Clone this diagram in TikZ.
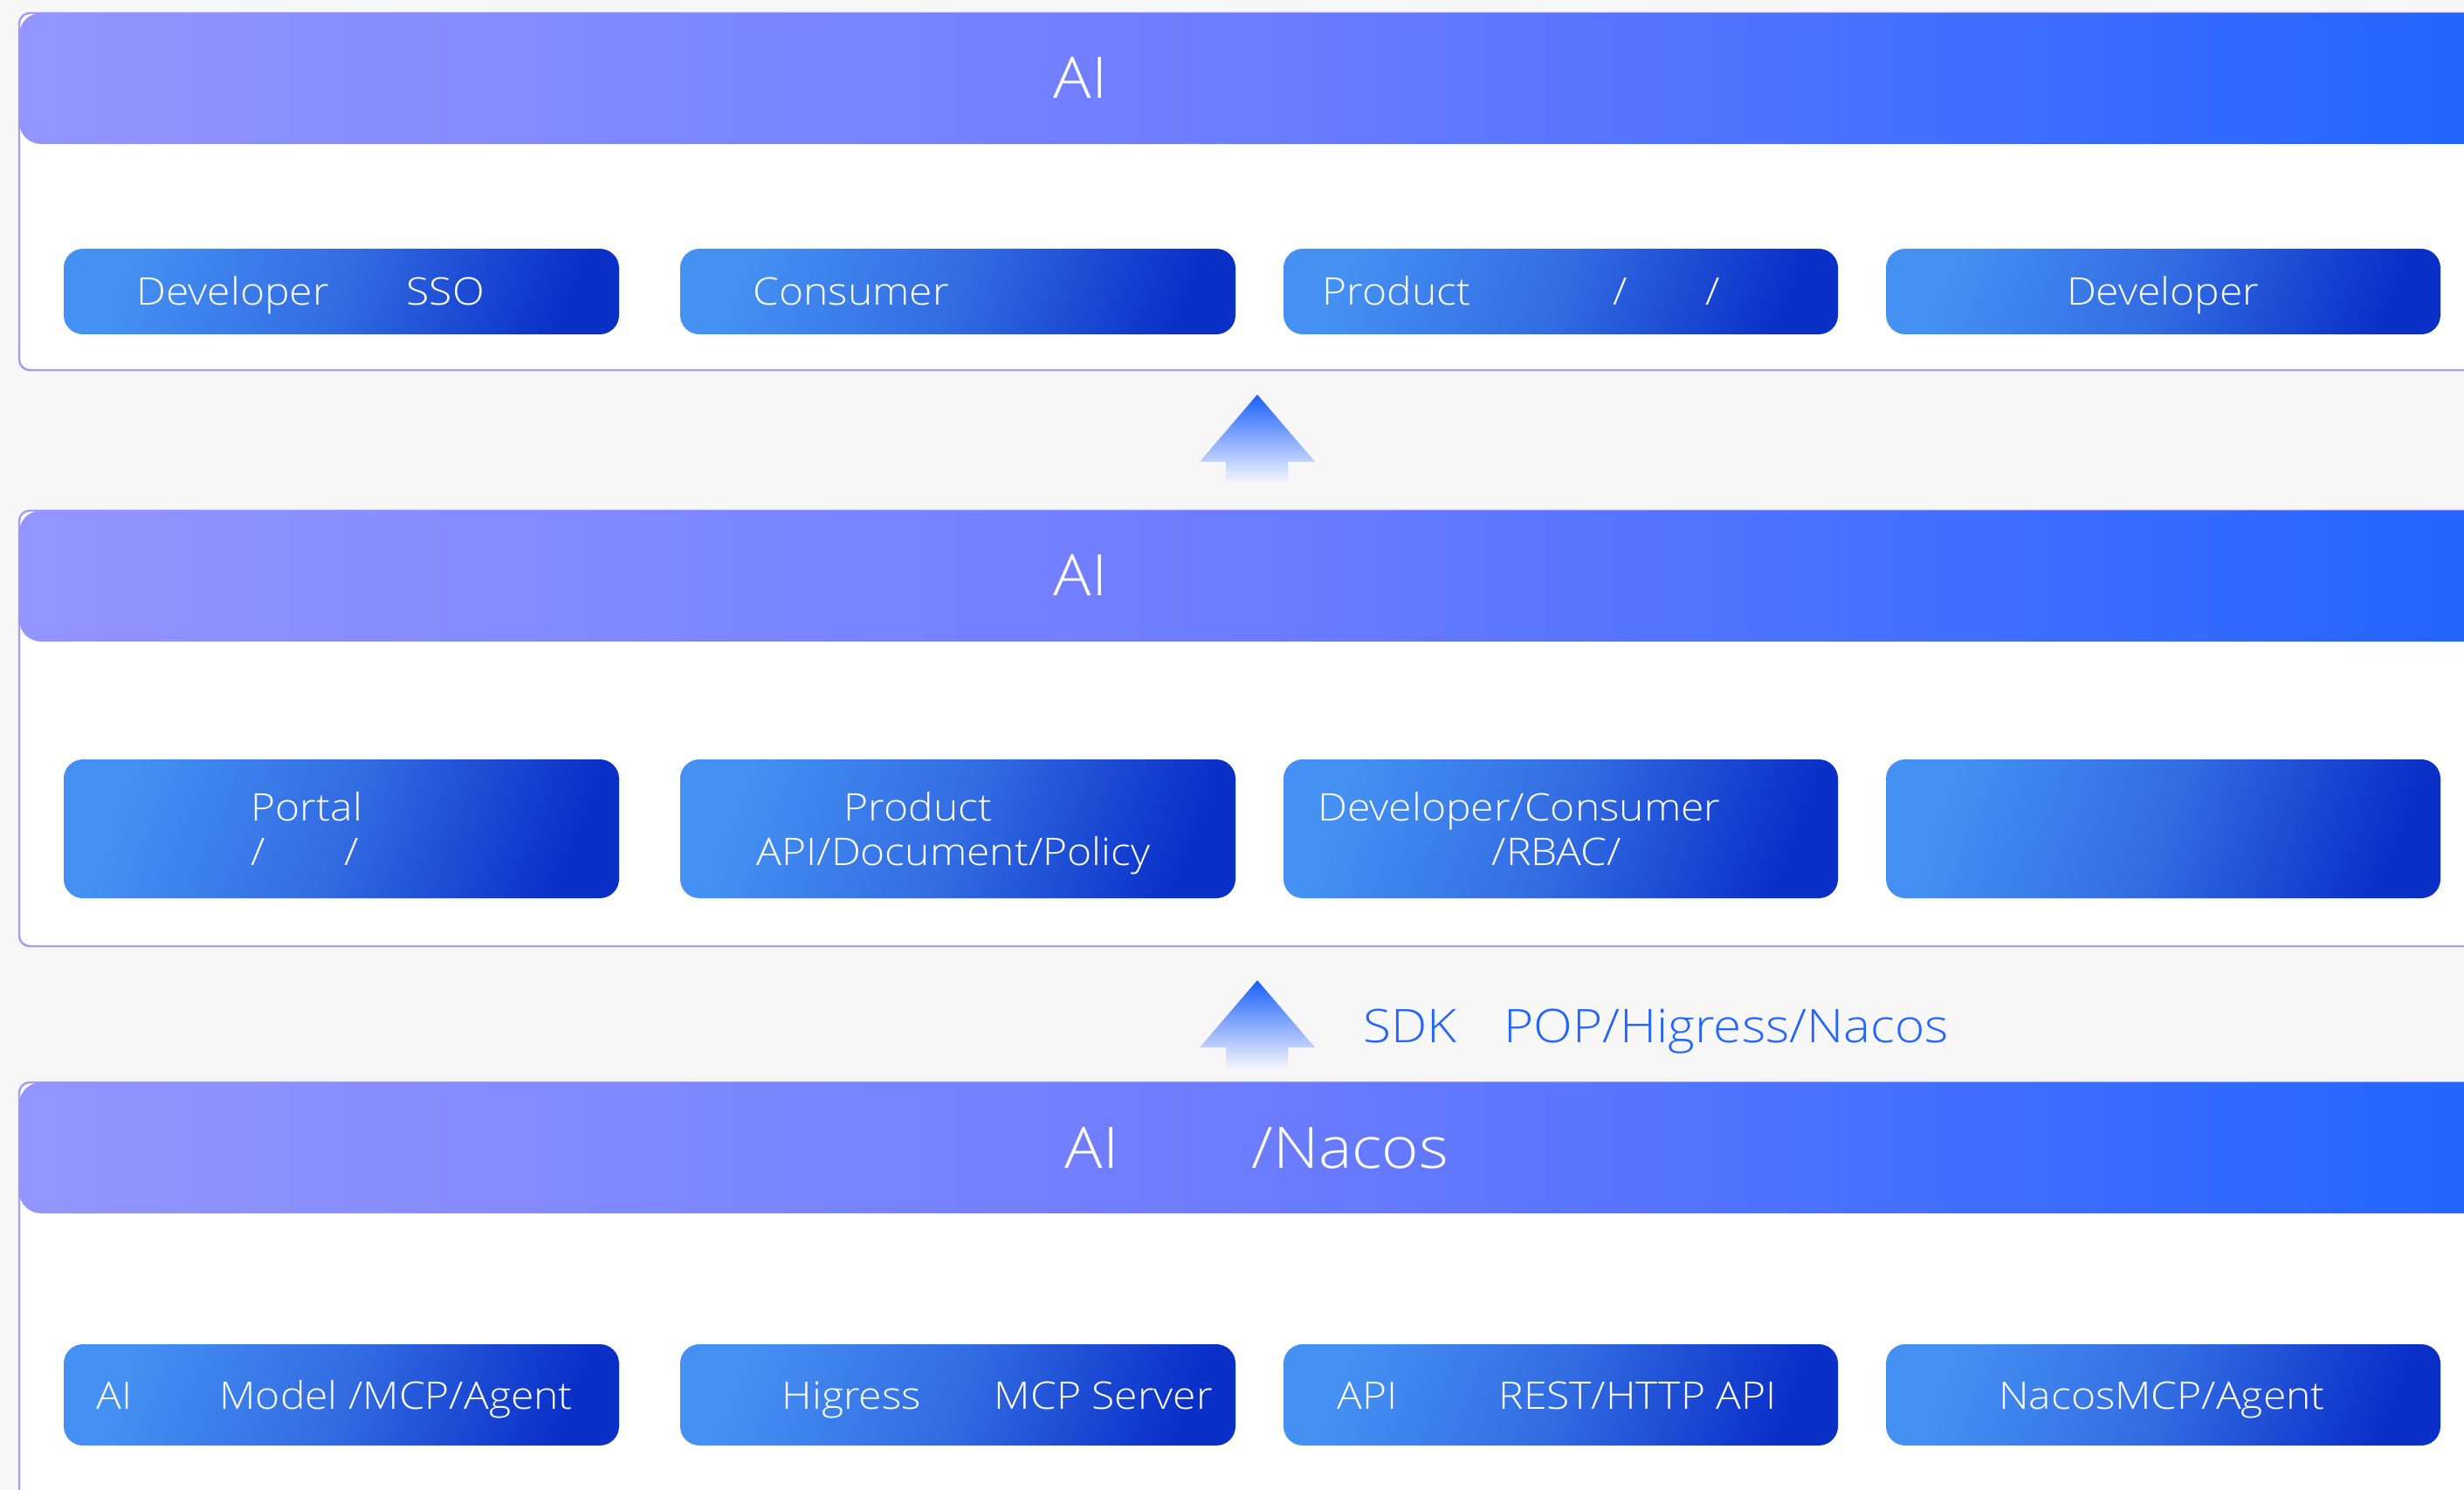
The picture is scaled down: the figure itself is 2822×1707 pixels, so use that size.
\documentclass[tikz,border=0pt]{standalone}
\usepackage{fontspec}
\setmainfont{Open Sans Light}[FakeStretch=1.1]
\usepackage{tikz}
\usetikzlibrary{positioning}
\usepackage{xcolor}

\definecolor{pagebg}{HTML}{F7F7F7}
\definecolor{barleft}{RGB}{147,149,255}
\definecolor{barmid}{RGB}{108,124,255}
\definecolor{barright}{RGB}{34,100,255}
\definecolor{panelline}{RGB}{160,158,250}
\definecolor{boxlight}{RGB}{69,145,243}
\definecolor{boxmid}{RGB}{50,108,226}
\definecolor{boxdark}{RGB}{10,48,200}
\definecolor{arrowtop}{RGB}{25,95,255}
\definecolor{arrowbot}{RGB}{247,247,251}
\definecolor{sdkblue}{RGB}{35,100,255}

\begin{document}
\begin{tikzpicture}[x=0.01cm,y=-0.01cm,
  layerpanel/.style={fill=white,draw=panelline,line width=0.7pt,rounded corners=0.12cm},
  layerbar/.style={left color=barleft,right color=barright,middle color=barmid,rounded corners=0.25cm},
  modbox/.style={left color=boxlight,right color=boxdark,middle color=boxmid,shading angle=70,rounded corners=0.22cm},
  flowarrow/.style={top color=arrowtop,bottom color=arrowbot},
  bartext/.style={anchor=base west,inner sep=0pt,text=white,font=\fontsize{18.7}{22}\selectfont},
  boxtext/.style={anchor=base west,inner sep=0pt,text=white,font=\fontsize{12.4}{15}\selectfont},
  sdktext/.style={anchor=base west,inner sep=0pt,text=sdkblue,font=\fontsize{15.1}{18}\selectfont}]
\useasboundingbox (0,0) rectangle (2822,1707);
\clip (0,0) rectangle (2822,1707);
\fill[pagebg] (0,0) rectangle (2822,1707);
% three layers: panel + title bar
\foreach \ya/\yb/\yc in {15/165/424, 585/735/1084, 1240/1390/1780} {
  \draw[layerpanel] (22,\ya) rectangle (2850,\yc);
  \shade[layerbar] (22,\ya) rectangle (2850,\yb);
}
% module boxes
\foreach \xa/\xb in {73/709, 779/1415, 1470/2105, 2160/2795} {
  \shade[modbox] (\xa,285) rectangle (\xb,383);
  \shade[modbox] (\xa,870) rectangle (\xb,1029);
  \shade[modbox] (\xa,1540) rectangle (\xb,1656);
}
% up arrows between layers
\foreach \yt in {452, 1123} {
  \shade[flowarrow] (1440,\yt) -- ++(66,77) -- ++(-31,0) -- ++(0,25) -- ++(-71,0)
    -- ++(0,-25) -- ++(-30,0) -- cycle;
}
\node[bartext] (h1) at (1206,113) {AI};
\node[bartext] (h2) at (1206,683) {AI};
\node[bartext] (h3) at (1219,1338) {AI\hspace{1.52cm}/Nacos};
\node[sdktext] (sdk) at (1561,1194) {SDK\hspace{0.54cm}POP/Higress/Nacos};
% top layer
\node[boxtext] (t11) at (156,350) {Developer\hspace{0.89cm}SSO};
\node[boxtext] (t12) at (862,350) {Consumer};
\node[boxtext] (t13) at (1514,350) {Product\hspace{1.63cm}/\hspace{0.9cm}/};
\node[boxtext,anchor=base] (t14) at (2477,350) {Developer};
% middle layer
\node[boxtext] (t21) at (287,940) {Portal};
\node[boxtext] (t21b) at (287,991) {/\hspace{0.9cm}/};
\node[boxtext] (t22) at (966,940) {Product};
\node[boxtext] (t22b) at (866,991) {API/Document/Policy};
\node[boxtext] (t23) at (1509,940) {Developer/Consumer};
\node[boxtext] (t23b) at (1708,991) {/RBAC/};
% bottom layer
\node[boxtext] (t31) at (110,1614) {AI\hspace{1.0cm}Model /MCP/Agent};
\node[boxtext] (t32) at (895,1614) {Higress\hspace{0.84cm}MCP Server};
\node[boxtext] (t33) at (1531,1614) {API\hspace{1.16cm}REST/HTTP API};
\node[boxtext,anchor=base] (t34) at (2476,1614) {NacosMCP/Agent};
\end{tikzpicture}
\end{document}
